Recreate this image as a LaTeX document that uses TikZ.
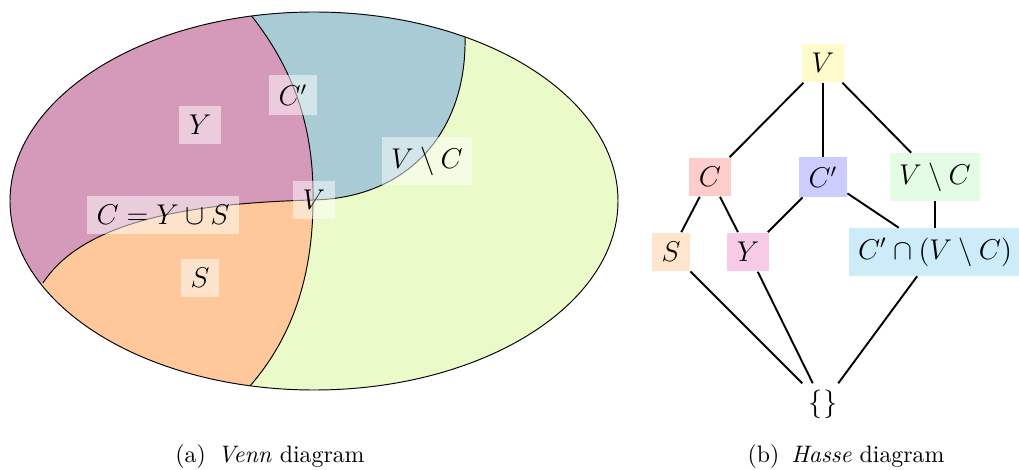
\documentclass[tikz,border=0pt]{standalone}
\usepackage{amsmath, amssymb}
\usepackage{xcolor}
\usepackage{tikz}

\definecolor{vennY}{RGB}{213,153,186}
\definecolor{vennCp}{RGB}{169,203,214}
\definecolor{vennVC}{RGB}{234,250,200}
\definecolor{vennS}{RGB}{254,200,154}
\definecolor{hasseV}{RGB}{255,251,204}
\definecolor{hasseC}{RGB}{255,204,204}
\definecolor{hasseCp}{RGB}{204,204,255}
\definecolor{hasseVC}{RGB}{228,252,228}
\definecolor{hasseS}{RGB}{255,229,204}
\definecolor{hasseY}{RGB}{247,202,230}
\definecolor{hasseCap}{RGB}{204,236,249}

\begin{document}
\begin{tikzpicture}[x=0.42pt, y=-0.42pt,
    vlabel/.style={fill=white, fill opacity=0.5, text opacity=1, inner sep=4pt, font=\large},
    hnode/.style={inner sep=4pt, font=\large},
    hedge/.style={thick}]
  \useasboundingbox (0,0) rectangle (1019,470);

  % ----- Left: Venn diagram -----
  \begin{scope}
    \clip (314,201) ellipse (304 and 189);
    % whole set, then the parts on top
    \fill[vennVC] (314,201) ellipse (304 and 189);
    \fill[vennS] (250,0) -- (250,14) .. controls (295,70) and (314,130) .. (313,200)
      .. controls (313,280) and (290,340) .. (250,386) -- (250,420) -- (0,420) -- (0,0) -- cycle;
    \fill[vennY] (250,0) -- (250,14) .. controls (295,70) and (314,130) .. (313,200)
      .. controls (200,203) and (85,218) .. (43,283) -- (0,300) -- (0,0) -- cycle;
    \fill[vennCp] (250,0) -- (250,14) .. controls (295,70) and (314,130) .. (313,200)
      .. controls (410,198) and (467,130) .. (465,37) -- (470,0) -- cycle;

    % boundaries
    \draw (250,14) .. controls (295,70) and (314,130) .. (313,200)
      .. controls (313,280) and (290,340) .. (250,386);
    \draw (43,283) .. controls (85,218) and (200,203) .. (313,200)
      .. controls (410,198) and (467,130) .. (465,37);
  \end{scope}
  \draw (314,201) ellipse (304 and 189);

  % Region labels
  \node[vlabel] (lY) at (200,125) {$Y$};
  \node[vlabel] (lCp) at (293,95) {$C'$};
  \node[vlabel] (lVC) at (427,161) {$V \setminus C$};
  \node[vlabel] (lV) at (314,200) {$V$};
  \node[vlabel] (lC) at (163,215) {$C = Y \cup S$};
  \node[vlabel] (lS) at (200,278) {$S$};

  % ----- Right: Hasse diagram -----
  \node[hnode, fill=hasseV] (V) at (823,63) {$V$};
  \node[hnode, fill=hasseC] (C) at (710,177) {$C$};
  \node[hnode, fill=hasseCp] (Cp) at (823,177) {$C'$};
  \node[hnode, fill=hasseVC] (VC) at (935,177) {$V \setminus C$};
  \node[hnode, fill=hasseS] (S) at (671,252) {$S$};
  \node[hnode, fill=hasseY] (Y) at (748,252) {$Y$};
  \node[hnode, fill=hasseCap] (Cap) at (935,252) {$C' \cap (V \setminus C)$};
  \node[hnode, inner sep=2.5pt] (E) at (823,404) {$\{\}$};

  \foreach \a/\b in {V/C, V/Cp, V/VC, C/S, C/Y, Cp/Y, Cp/Cap, VC/Cap, S/E, Y/E, Cap/E}
    \draw[hedge] (\a) -- (\b);

  % ----- Captions -----
  \node (capA) at (270,457) {(a)\enspace\textit{Venn} diagram};
  \node (capB) at (846,457) {(b)\enspace\textit{Hasse} diagram};
\end{tikzpicture}
\end{document}
